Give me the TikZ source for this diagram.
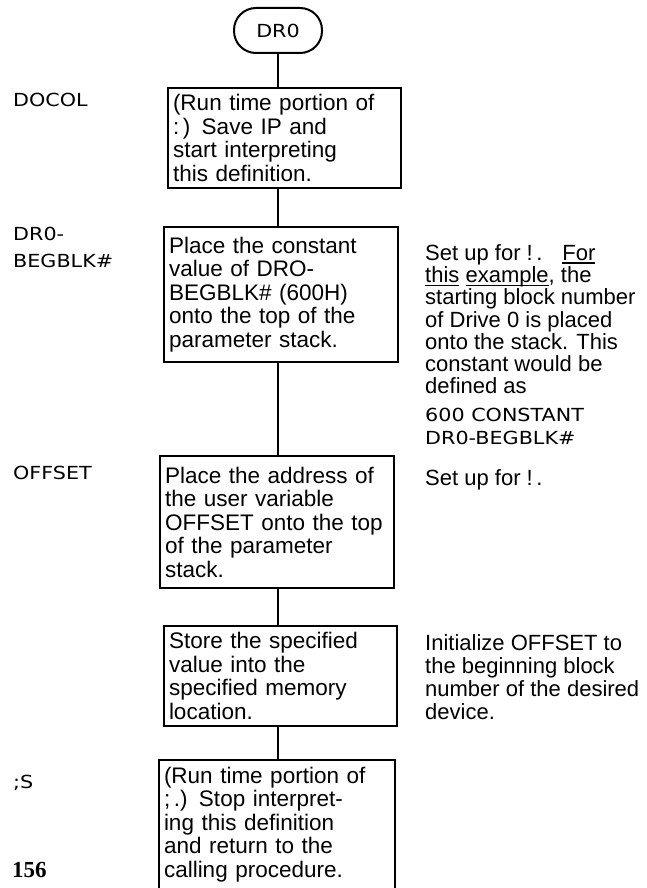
\documentclass[tikz,border=0pt]{standalone}
\usepackage{fontspec}
\setmainfont{Liberation Sans}[Ligatures=NoCommon]
\newfontfamily\lblfamily{DejaVu Sans}[FakeStretch=1.15]
\newfontfamily\pgnumfamily{Liberation Serif}
\newcommand\boxfont{\fontsize{22.5}{23.5}\selectfont}
\newcommand\notefont{\fontsize{22}{22.3}\selectfont}
\newcommand\lblfont{\lblfamily\fontsize{18}{27}\selectfont}
\newcommand\myul[1]{\setbox0\hbox{#1}\rlap{\rule[-3.5pt]{\wd0}{1.3pt}}\box0}
\begin{document}
\begin{tikzpicture}[x=1pt,y=-1pt,
  box/.style={draw, line width=2pt, anchor=north west, inner xsep=5pt, inner ysep=4pt, align=left, font=\boxfont},
  term/.style={draw, line width=2pt, rounded corners=22pt, minimum width=88pt, minimum height=45pt, inner sep=0pt, font=\lblfont},
  conn/.style={line width=2.3pt},
  lbl/.style={anchor=west, inner sep=0pt, font=\lblfont},
  note/.style={anchor=north west, inner sep=0pt, align=left, font=\notefont}]
\clip (0,0) rectangle (647,888);
\fill[white] (0,0) rectangle (647,888);
% terminal
\node[term] (t) at (278,30.5) {DR0};
% boxes
\node[box, text width=223pt, minimum width=233pt, minimum height=100pt] (b1) at (167,87)
  {(Run time portion of\\:\,) Save IP and\\start interpreting\\this definition.};
\node[box, text width=224pt, minimum width=234pt, minimum height=135pt] (b2) at (163,226)
  {Place the constant\\value of DRO-\\BEGBLK\# (600H)\\onto the top of the\\parameter stack.};
\node[box, text width=224pt, minimum width=234pt, minimum height=132pt] (b3) at (159,455)
  {Place the address of\\the user variable\\OFFSET onto the top\\of the parameter\\stack.};
\node[box, text width=223pt, minimum width=233pt, minimum height=100pt] (b4) at (163,625)
  {Store the specified\\value into the\\specified memory\\location.};
\node[box, text width=226pt, minimum width=236pt, inner ysep=7pt] (b5) at (158,759)
  {(Run time portion of\\;\,.) Stop interpret-\\ing this definition\\and return to the\\calling procedure.\\\mbox{}\\\mbox{}};
% connectors
\draw[conn] (t.south) -- (t.south |- b1.north);
\draw[conn] (t.south |- b1.south) -- (t.south |- b2.north);
\draw[conn] (t.south |- b2.south) -- (t.south |- b3.north);
\draw[conn] (t.south |- b3.south) -- (t.south |- b4.north);
\draw[conn] (t.south |- b4.south) -- (t.south |- b5.north);
% left labels
\node[lbl] (l1) at (13,100) {DOCOL};
\node[lbl, anchor=north west, align=left] (l2) at (13,227) {DR0-\\BEGBLK\#};
\node[lbl] (l3) at (13,473) {OFFSET};
\node[lbl] (l4) at (13,783) {;S};
\node[lbl, font=\pgnumfamily\bfseries\fontsize{23}{24}\selectfont] (pg) at (12,870) {156};
% right notes
\node[note] (n1) at (425,244)
  {Set up for !\,.\hspace{0.9em}\myul{For}\\\myul{this}\ \myul{example}, the\\starting block number\\of Drive 0 is placed\\onto the stack. This\\constant would be\\defined as};
\node[note, font=\lblfont, align=left] (n2) at (425,408) {600 CONSTANT\\[-4pt]DR0-BEGBLK\#};
\node[note] (n3) at (425,469) {Set up for !\,.};
\node[note, font=\fontsize{22}{23}\selectfont] (n4) at (425,634)
  {Initialize OFFSET to\\the beginning block\\number of the desired\\device.};
\end{tikzpicture}
\end{document}
